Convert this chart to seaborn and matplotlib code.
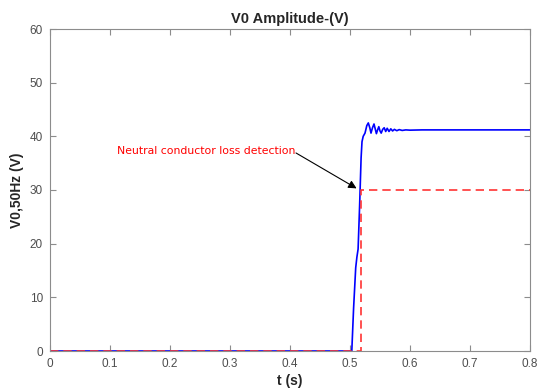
import matplotlib
matplotlib.use("Agg")
import matplotlib.pyplot as plt
import seaborn as sns
import pandas as pd

# measured V0 amplitude (blue)
t_meas = [0.0, 0.5030, 0.5060, 0.5095, 0.5115, 0.5135, 0.5160, 0.5185, 0.5200,
          0.5220, 0.5250, 0.5280, 0.5305, 0.5330, 0.5350, 0.5375, 0.5400, 0.5420,
          0.5440, 0.5460, 0.5480, 0.5500, 0.5520, 0.5545, 0.5570, 0.5595, 0.5620,
          0.5650, 0.5680, 0.5710, 0.5740, 0.5780, 0.5820, 0.5870, 0.5930, 0.6000,
          0.6200, 0.6500, 0.7000, 0.8000]
v_meas = [0.0, 0.0, 8.0, 15.5, 17.5, 19.0, 27.0, 36.0, 39.0,
          40.0, 40.6, 42.0, 42.5, 41.6, 40.6, 41.6, 42.3, 41.4,
          40.5, 41.2, 41.8, 41.0, 40.6, 41.3, 41.6, 40.9, 41.5,
          40.9, 41.4, 41.0, 41.3, 41.05, 41.25, 41.1, 41.2, 41.15,
          41.2, 41.2, 41.2, 41.2]

# detection signal (red dashed)
t_det = [0.0, 0.518, 0.518, 0.8]
v_det = [0.0, 0.0, 30.0, 30.0]

x_ticks = [0, 0.1, 0.2, 0.3, 0.4, 0.5, 0.6, 0.7, 0.8]
x_ticklabels = ["0", "0.1", "0.2", "0.3", "0.4", "0.5", "0.6", "0.7", "0.8"]
y_ticks = [0, 10, 20, 30, 40, 50, 60]

title = "V0 Amplitude-(V)"
xlabel = "t (s)"
ylabel = "V0,50Hz (V)"
annot_text = "Neutral conductor loss detection"

sns.set_style("white")
plt.rcParams['font.family'] = ['Liberation Sans', 'DejaVu Sans']

fig = plt.figure(figsize=(5.42, 3.90), dpi=100)
ax = fig.add_axes([50/542, 1-351/390, 480/542, 322/390])

df_meas = pd.DataFrame({"t": t_meas, "v": v_meas})
df_det = pd.DataFrame({"t": t_det, "v": v_det})

sns.lineplot(data=df_meas, x="t", y="v", ax=ax, color="#0000ff", lw=1.2,
             sort=False, estimator=None)
sns.lineplot(data=df_det, x="t", y="v", ax=ax, color="#ff3333", lw=1.2,
             sort=False, estimator=None, dashes=False)
ax.lines[-1].set_linestyle((0, (5, 3)))

ax.set_xlim(0, 0.8)
ax.set_ylim(0, 60)
ax.set_xticks(x_ticks)
ax.set_xticklabels(x_ticklabels)
ax.set_yticks(y_ticks)

gray = "#4d4d4d"
for s in ax.spines.values():
    s.set_color("#8c8c8c")
    s.set_linewidth(0.8)
    s.set_visible(True)
ax.tick_params(direction="in", length=4, width=0.8, colors="#8c8c8c",
               labelcolor=gray, labelsize=8.5, top=True, right=True,
               bottom=True, left=True, pad=5)

ax.set_title(title, fontsize=10.5, fontweight="bold", color="#262626", pad=4)
ax.set_xlabel(xlabel, fontsize=10, fontweight="bold", color="#262626", labelpad=3)
ax.set_ylabel(ylabel, fontsize=10, fontweight="bold", color="#262626", labelpad=4)

ax.annotate(annot_text, xy=(0.1117, 37.3), xycoords="data", color="#ff0000",
            fontsize=7.8, ha="left", va="center",
            family=["DejaVu Sans"])
ax.annotate("", xy=(0.511, 30.3), xytext=(0.41, 36.9),
            arrowprops=dict(arrowstyle="-|>", color="black", lw=0.8,
                            mutation_scale=12, shrinkA=0, shrinkB=0))

fig.savefig("out.png", dpi=100)
